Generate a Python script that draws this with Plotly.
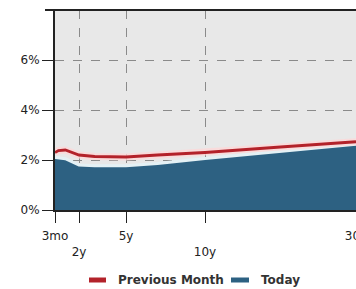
import plotly.graph_objects as go
import numpy as np

# Maturities in years
maturities = [0.25, 0.5, 1, 2, 3, 5, 7, 10, 20, 30]
today = [2.10, 2.09, 2.05, 1.80, 1.77, 1.77, 1.86, 2.06, 2.36, 2.63]
previous_month = [2.30, 2.38, 2.40, 2.20, 2.14, 2.12, 2.20, 2.30, 2.52, 2.73]

tick_maturities = [0.25, 2, 5, 10, 30]
tick_labels = ["3mo", "<br>2y", "5y", "<br>10y", "30y"]
# piecewise scale breakpoints for the maturity axis
axis_positions = [0, 24, 71, 150, 301]

y_ticks = [0, 2, 4, 6]
y_labels = ["0%", "2%", "4%", "6%"]


def pos(m):
    return np.interp(m, tick_maturities, axis_positions)


x = pos(maturities)

BLUE = "#2d6182"
RED = "#b3222a"
FONT = "DejaVu Sans"

fig = go.Figure()
fig.add_trace(go.Scatter(
    x=x, y=today, mode="lines", fill="tozeroy", fillcolor=BLUE,
    line=dict(color="#e4f1f5", width=3), name="Today",
    showlegend=False, hoverinfo="skip"))
fig.add_trace(go.Scatter(
    x=x, y=previous_month, mode="lines",
    line=dict(color="rgba(255,215,215,0.75)", width=7),
    showlegend=False, hoverinfo="skip"))
fig.add_trace(go.Scatter(
    x=x, y=previous_month, mode="lines",
    line=dict(color=RED, width=2.8), name="Previous Month",
    showlegend=False, hoverinfo="skip"))

axis_common = dict(
    showline=True, linecolor="#222", linewidth=2,
    ticks="outside", ticklen=11, tickwidth=1.2, tickcolor="#222",
    showgrid=True, gridcolor="#8a8a8a", gridwidth=1, griddash="dash",
    zeroline=False, tickfont=dict(family=FONT, size=12, color="#222"),
    automargin=False, ticklabeloverflow="allow",
)

fig.update_xaxes(range=[0, 301], tickmode="array",
                 tickvals=pos(tick_maturities), ticktext=tick_labels,
                 ticklabelstandoff=3, **axis_common)
fig.update_yaxes(range=[0, 8], tickmode="array",
                 tickvals=y_ticks, ticktext=y_labels, **axis_common)

W_PLOT, H_PLOT, L, T = 301, 200, 55, 10


def px(xp):
    return (xp - L) / W_PLOT


def py(yp):
    return (T + H_PLOT - yp) / H_PLOT


shapes = [
    dict(type="line", xref="paper", yref="paper", x0=px(45), x1=1.02,
         y0=1, y1=1, line=dict(color="#222", width=2)),
    dict(type="line", xref="paper", yref="paper", x0=px(89), x1=px(106),
         y0=py(280), y1=py(280), line=dict(color=RED, width=5)),
    dict(type="line", xref="paper", yref="paper", x0=px(231), x1=px(249),
         y0=py(280), y1=py(280), line=dict(color=BLUE, width=5)),
]
annotations = [
    dict(text="Previous Month", xref="paper", yref="paper", x=px(116),
         y=py(280), xanchor="left", yanchor="middle", showarrow=False,
         font=dict(family=FONT, size=12, color="#333", weight="bold")),
    dict(text="Today", xref="paper", yref="paper", x=px(259),
         y=py(280), xanchor="left", yanchor="middle", showarrow=False,
         font=dict(family=FONT, size=12, color="#333", weight="bold")),
]

fig.update_layout(
    width=356, height=289, autosize=False,
    margin=dict(l=L, r=0, t=T, b=79, pad=0),
    paper_bgcolor="white", plot_bgcolor="#e8e8e8",
    showlegend=False, shapes=shapes, annotations=annotations,
)

fig.write_html("out.html", config={"displayModeBar": False})

# remove default page margin so the figure sits at the window's top-left
with open("out.html", encoding="utf-8") as f:
    html = f.read()
html = html.replace("<head>", "<head><style>html,body{margin:0;padding:0;overflow:hidden;}</style>", 1)
with open("out.html", "w", encoding="utf-8") as f:
    f.write(html)
